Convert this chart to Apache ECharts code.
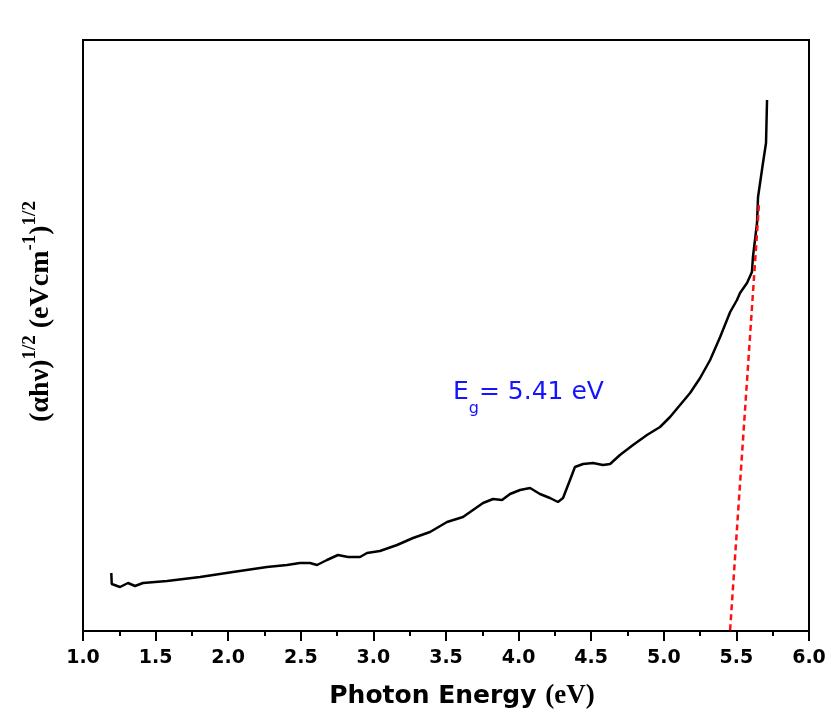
<!DOCTYPE html>
<html>
<head>
<meta charset="utf-8">
<script src="https://cdn.jsdelivr.net/npm/echarts@6/dist/echarts.min.js"></script>
<style>
  html, body { margin: 0; padding: 0; background: #fff; }
  #chart { width: 837px; height: 722px; }
</style>
</head>
<body>
<div id="chart"></div>
<script>
// Photon energy (eV) of the measured Tauc curve
const energy = [1.195,1.198,1.207,1.255,1.31,1.358,1.413,1.579,1.806,2.033,
  2.267,2.405,2.494,2.563,2.612,2.680,2.756,2.825,2.908,2.956,
  3.045,3.163,3.273,3.390,3.507,3.617,3.686,3.755,3.824,3.886,
  3.941,4.010,4.079,4.147,4.216,4.271,4.306,4.354,4.388,4.444,
  4.512,4.581,4.630,4.698,4.788,4.884,4.974,5.043,5.112,5.181,
  5.250,5.319,5.388,5.457,5.504,5.525,5.573,5.607,5.614,5.642,
  5.649,5.683,5.704,5.711];
// (αhν)^1/2 in arbitrary units
const tauc = [31.4,29.2,29.4,28.6,29.4,28.8,29.4,29.8,30.6,31.6,
  32.6,33.0,33.4,33.4,33.0,34.0,35.0,34.6,34.6,35.4,
  35.8,37.0,38.4,39.6,41.6,42.6,44.0,45.4,46.2,46.0,
  47.2,48.0,48.4,47.2,46.4,45.6,46.4,50.0,52.6,53.2,
  53.4,53.0,53.2,55.0,57.0,59.0,60.6,62.6,65.0,67.4,
  70.4,74.0,78.6,83.6,86.0,87.4,89.4,91.6,94.6,101.4,
  106.6,113.4,117.4,126];
// Linear extrapolation of the absorption edge down to zero -> band gap
const bandGap = 5.41;
const fitX = [bandGap, 5.656];
const fitY = [0, 105.4];
const xTicks = [1.0, 1.5, 2.0, 2.5, 3.0, 3.5, 4.0, 4.5, 5.0, 5.5, 6.0];

const chart = echarts.init(document.getElementById('chart'), null, { renderer: 'canvas' });

chart.setOption({
  backgroundColor: '#ffffff',
  animation: false,
  grid: {
    left: 83, right: 28, top: 40, bottom: 91,
    show: true, borderColor: '#000', borderWidth: 2, backgroundColor: 'transparent'
  },
  xAxis: {
    type: 'value',
    min: xTicks[0], max: xTicks[xTicks.length - 1], interval: 0.5,
    axisLine: { show: true, lineStyle: { color: '#000', width: 2 } },
    axisTick: { show: true, inside: false, length: 10, lineStyle: { color: '#000', width: 2 } },
    minorTick: { show: true, splitNumber: 2, length: 5, lineStyle: { color: '#000', width: 2 } },
    splitLine: { show: false },
    axisLabel: {
      margin: 18, color: '#000', fontFamily: 'DejaVu Sans', fontWeight: 'bold', fontSize: 19,
      formatter: v => v.toFixed(1)
    },
    name: '{a|Photon Energy }{b|(eV)}',
    nameLocation: 'middle', nameGap: 52,
    nameTextStyle: {
      padding: [0, 0, 0, 32],
      rich: {
        a: { fontFamily: 'DejaVu Sans', fontWeight: 'bold', fontSize: 25, color: '#000' },
        b: { fontFamily: 'Liberation Serif', fontWeight: 'bold', fontSize: 27, color: '#000' }
      }
    }
  },
  yAxis: {
    type: 'value',
    min: 19.8, max: 138,
    axisLine: { show: true, lineStyle: { color: '#000', width: 2 } },
    axisTick: { show: false },
    axisLabel: { show: false },
    splitLine: { show: false },
    name: '{m|(αhν)}{s|1/2}{m| (eVcm}{s|-1}{m|)}{s|1/2}',
    nameLocation: 'middle', nameRotate: 90, nameGap: 28,
    nameTextStyle: {
      padding: [0, 0, 0, 48],
      rich: {
        m: { fontFamily: 'Liberation Serif', fontWeight: 'bold', fontSize: 28, lineHeight: 34, verticalAlign: 'bottom', color: '#000' },
        s: { fontFamily: 'Liberation Serif', fontWeight: 'bold', fontSize: 19, lineHeight: 19, verticalAlign: 'top', color: '#000' }
      }
    }
  },
  graphic: [{
    type: 'text',
    left: 453, top: 380,
    style: {
      text: '{e|E}{g|g}{e|= ' + bandGap.toFixed(2) + ' eV}',
      rich: {
        e: { fontFamily: 'DejaVu Sans', fontSize: 25, lineHeight: 30, verticalAlign: 'top', fill: '#1414ff' },
        g: { fontFamily: 'DejaVu Sans', fontSize: 16, lineHeight: 58, verticalAlign: 'middle', fill: '#1414ff' }
      }
    }
  }],
  series: [
    {
      name: 'Tauc',
      type: 'line',
      data: energy.map((e, i) => [e, tauc[i]]),
      showSymbol: false,
      lineStyle: { color: '#000', width: 2.5 },
      z: 3
    },
    {
      name: 'Fit',
      type: 'line',
      data: fitX.map((e, i) => [e, fitY[i]]),
      showSymbol: false,
      clip: true,
      lineStyle: { color: '#ff1010', width: 2.5, type: [6, 4] },
      z: 4
    }
  ]
});
</script>
</body>
</html>
